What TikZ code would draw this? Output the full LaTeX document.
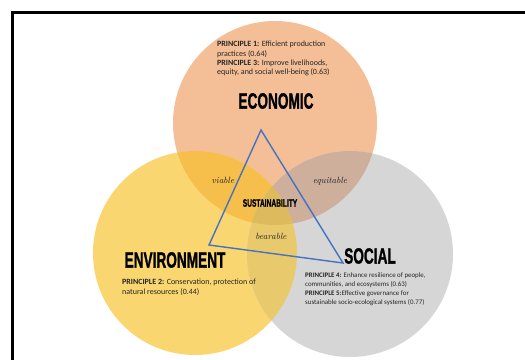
\documentclass[tikz,border=0pt]{standalone}
\usepackage{fontspec}
\usepackage{graphicx}
\newfontfamily\bodyfont{Carlito}
\newfontfamily\headfont{Liberation Sans}[FakeBold=1.6]
\definecolor{cO}{HTML}{F4BE96}
\definecolor{cY}{HTML}{F9D66F}
\definecolor{cG}{HTML}{D6D6D6}
\definecolor{cOY}{HTML}{F6BE4A}
\definecolor{cOG}{HTML}{CDAF9C}
\definecolor{cYG}{HTML}{E8CA6C}
\definecolor{cOYG}{HTML}{DDBA5C}
\definecolor{triblue}{HTML}{4472C4}
\def\Ocirc{(275,123) circle[radius=102pt]}
\def\Ycirc{(195,253) circle[radius=102pt]}
\def\Gcirc{(350,254) circle[radius=103pt]}
\tikzset{
  princ/.style={anchor=north west, inner sep=0pt, align=left, text=black!85, font=\bodyfont\fontsize{8}{9.3}\selectfont},
  princsmall/.style={princ, font=\bodyfont\fontsize{6.9}{8.7}\selectfont},
  head/.style={inner sep=0pt, font=\headfont\bfseries\fontsize{22}{22}\selectfont},
  hand/.style={inner sep=0pt, font=\itshape\fontsize{9}{9}\selectfont, text=black!85},
}
\newcommand{\cond}[1]{\scalebox{0.62}[1]{#1}}
\begin{document}
\begin{tikzpicture}[x=1pt,y=-1pt]
\useasboundingbox (0,0) rectangle (525,359);
\fill[white] (0,0) rectangle (525,359);
% circles
\fill[cO] \Ocirc;
\fill[cY] \Ycirc;
\fill[cG] \Gcirc;
\begin{scope}\clip \Ocirc; \fill[cOY] \Ycirc; \end{scope}
\begin{scope}\clip \Ocirc; \fill[cOG] \Gcirc; \end{scope}
\begin{scope}\clip \Ycirc; \fill[cYG] \Gcirc; \end{scope}
\begin{scope}\clip \Ocirc; \clip \Ycirc; \fill[cOYG] \Gcirc; \end{scope}
% frame
\draw[line width=3pt] (12.5,360) -- (12.5,12.5) -- (526,12.5);
% triangle
\draw[triblue, line width=1.4pt, line join=miter] (261,130) -- (209,245) -- (343,263) -- cycle;
% headings
\node[head] (eco) at (276,101) {\cond{ECONOMIC}};
\node[head] (env) at (175,260) {\cond{ENVIRONMENT}};
\node[head] (soc) at (370,256) {\cond{SOCIAL}};
\node[inner sep=0pt, font=\headfont\bfseries\fontsize{10.7}{10.7}\selectfont] (sus) at (270,203) {\cond{SUSTAINABILITY}};
% handwritten labels
\node[hand] (via) at (223,180) {viable};
\node[hand] (equ) at (330,181) {equitable};
\node[hand] (bea) at (271,236) {bearable};
% principles
\node[princ] (p13) at (217,41) {\textbf{PRINCIPLE 1:} Efficient production\\practices (0.64)\\\textbf{PRINCIPLE 3:} Improve livelihoods,\\equity, and social well-being (0.63)};
\node[princ] (p2) at (122,279) {\textbf{PRINCIPLE 2:} Conservation, protection of\\natural resources (0.44)};
\node[princsmall] (p45) at (305,273) {\textbf{PRINCIPLE 4:} Enhance resilience of people,\\communities, and ecosystems (0.63)\\\textbf{PRINCIPLE 5:}Effective governance for\\sustainable socio-ecological systems (0.77)};
\end{tikzpicture}
\end{document}
